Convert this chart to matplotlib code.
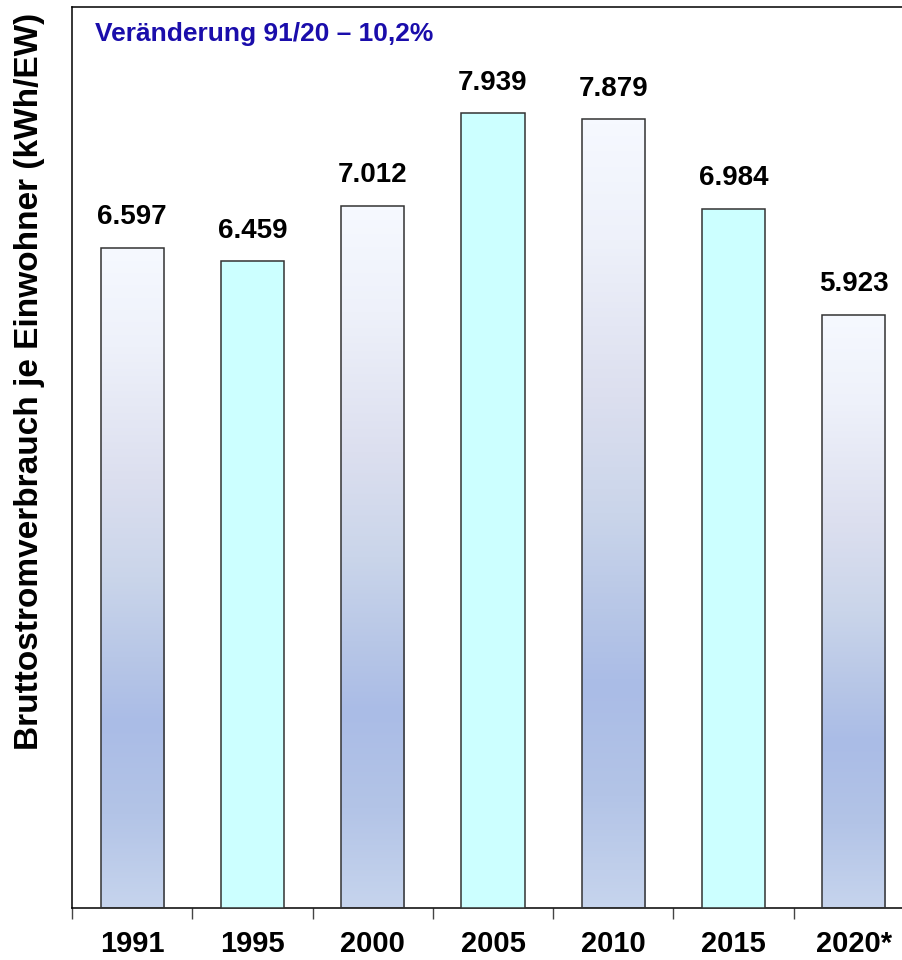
import numpy as np
import matplotlib
matplotlib.use('Agg')
import matplotlib.pyplot as plt
from matplotlib.colors import LinearSegmentedColormap

categories = ['1991', '1995', '2000', '2005', '2010', '2015', '2020*']
values = [6597, 6459, 7012, 7939, 7879, 6984, 5923]
value_labels = ['6.597', '6.459', '7.012', '7.939', '7.879', '6.984', '5.923']
fill_styles = ['gradient', 'cyan', 'gradient', 'cyan', 'gradient', 'cyan', 'gradient']
title_text = 'Veränderung 91/20 – 10,2%'
ylabel_text = 'Bruttostromverbrauch je Einwohner (kWh/EW)'

plt.rcParams['font.family'] = ['Liberation Sans', 'DejaVu Sans']

grad_cmap = LinearSegmentedColormap.from_list('bargrad', [
    (0.0, '#F6F9FF'),
    (0.15, '#EEF1FA'),
    (0.35, '#DCDFEF'),
    (0.50, '#CAD5EA'),
    (0.62, '#B8C7E7'),
    (0.72, '#AABCE6'),
    (0.86, '#B3C4E7'),
    (1.0, '#C6D4ED'),
])

fig = plt.figure(figsize=(9.03, 9.6), dpi=100)
ax = fig.add_axes([72 / 903, 52 / 960, 842 / 903, 901 / 960])

x = np.arange(len(categories))
width = 0.525
grad = np.linspace(0, 1, 256).reshape(-1, 1)

for xi, v, style in zip(x, values, fill_styles):
    face = '#CCFFFF' if style == 'cyan' else 'none'
    b = ax.bar(xi, v, width=width, color=face, edgecolor='#333333',
               linewidth=1.1, zorder=3)[0]
    if style == 'gradient':
        im = ax.imshow(grad, extent=[xi - width / 2, xi + width / 2, 0, v],
                       aspect='auto', cmap=grad_cmap, origin='upper',
                       zorder=2, interpolation='bilinear')
        im.set_clip_path(b)

for xi, v, lab in zip(x, values, value_labels):
    ax.annotate(lab, (xi, v), xytext=(0, 22), textcoords='offset points',
                ha='center', va='center', fontsize=20, fontweight='bold',
                color='black', zorder=4)

ax.set_xlim(-0.5, len(categories) - 0.5)
ax.set_ylim(0, 9000)
ax.set_yticks([])

ax.set_xticks(np.arange(-0.5, len(categories), 1))
ax.set_xticklabels([])
ax.set_xticks(x, minor=True)
ax.set_xticklabels(categories, minor=True, fontsize=21, fontweight='bold')
ax.tick_params(axis='x', which='major', length=8, width=1, color='#444444', direction='out')
ax.tick_params(axis='x', which='minor', length=0, pad=16)

for s in ['left', 'top', 'bottom']:
    ax.spines[s].set_linewidth(1.1)
    ax.spines[s].set_color('black')
ax.spines['right'].set_visible(False)

fig.text(95 / 903, 1 - 34 / 960, title_text, ha='left', va='center',
         fontsize=19, fontweight='bold', color='#1A0DAB')
fig.text(30 / 903, 1 - 381 / 960, ylabel_text, rotation=90, ha='center',
         va='center', fontsize=24, fontweight='bold', color='black')

fig.savefig('out.png', dpi=100)
